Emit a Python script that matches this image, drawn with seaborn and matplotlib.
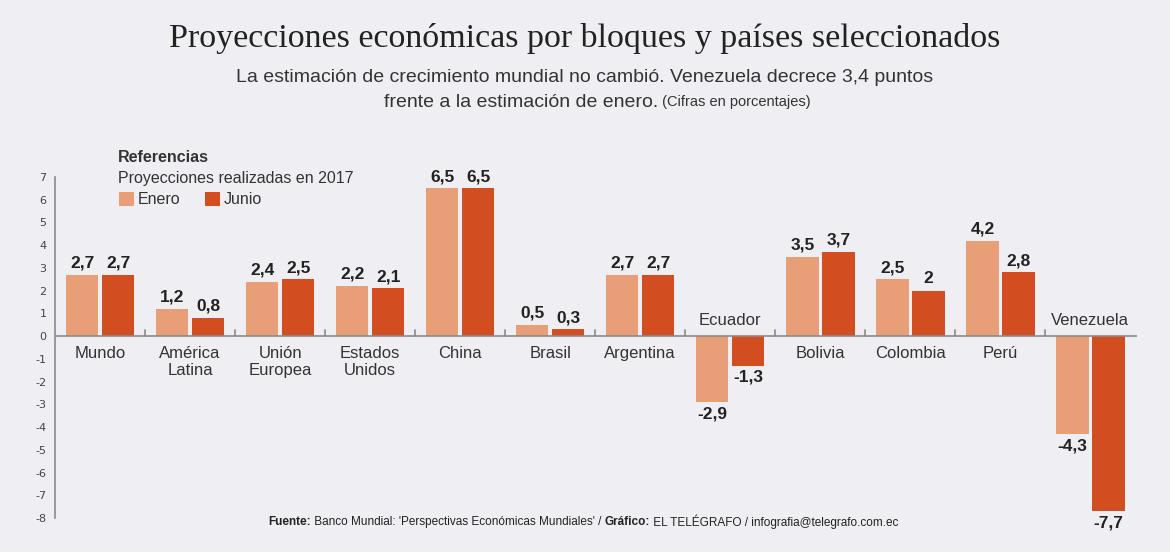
import numpy as np
import pandas as pd
import seaborn as sns
import matplotlib.pyplot as plt

# Datos (cifras en porcentajes)
paises = ['Mundo', 'América\nLatina', 'Unión\nEuropea', 'Estados\nUnidos', 'China', 'Brasil',
          'Argentina', 'Ecuador', 'Bolivia', 'Colombia', 'Perú', 'Venezuela']
enero = [2.7, 1.2, 2.4, 2.2, 6.5, 0.5, 2.7, -2.9, 3.5, 2.5, 4.2, -4.3]
junio = [2.7, 0.8, 2.5, 2.1, 6.5, 0.3, 2.7, -1.3, 3.7, 2.0, 2.8, -7.7]
series = ['Enero', 'Junio']
y_ticks = list(range(-8, 8))

BG = '#efeff3'
colores = ['#e89e76', '#d24d1f']

sns.set_style('white')
plt.rcParams['font.family'] = ['Liberation Sans', 'DejaVu Sans']
plt.rcParams['axes.unicode_minus'] = False

df = pd.DataFrame({
    'pais': paises * 2,
    'valor': enero + junio,
    'serie': ['Enero'] * len(paises) + ['Junio'] * len(paises),
})

fig = plt.figure(figsize=(11.7, 5.52), dpi=100, facecolor=BG)
ax = fig.add_axes([0.047, 0.0616, 0.925, 0.6178])
ax.set_facecolor(BG)

sns.barplot(data=df, x='pais', y='valor', hue='serie', hue_order=series,
            palette=colores, saturation=1, width=0.8, gap=0.1, linewidth=0,
            legend=False, ax=ax)

ax.set_xlim(-0.5, len(paises) - 0.48)
ax.set_ylim(-8, 7)

# etiquetas de valores
for cont, vals in zip(ax.containers, [enero, junio]):
    labs = [f'{v:g}'.replace('.', ',') for v in vals]
    ax.bar_label(cont, labels=labs, padding=3, fontsize=12.5, fontweight='bold', color='#222222')

# línea del cero y separadores
ax.axhline(0, color='#8a8a8a', lw=1.2, zorder=1)
for b in np.arange(0.5, len(paises) - 1, 1):
    ax.plot([b, b], [0, 0.28], color='#8a8a8a', lw=1.2, zorder=1)

# nombres de países
for i, (p, e, j) in enumerate(zip(paises, enero, junio)):
    if min(e, j) < 0:
        ax.annotate(p, (i, 0), xytext=(0, 6), textcoords='offset points',
                    ha='center', va='bottom', fontsize=12, color='#333333')
    else:
        ax.annotate(p, (i, 0), xytext=(0, -7), textcoords='offset points',
                    ha='center', va='top', fontsize=12, color='#333333', linespacing=1.15)

# ejes
sns.despine(ax=ax, bottom=True)
ax.spines['left'].set_color('#8a8a8a')
ax.spines['left'].set_linewidth(1.2)
ax.set_xticks([])
ax.set_yticks(y_ticks)
ax.tick_params(axis='y', direction='in', length=6, color='#8a8a8a', width=1.2,
               labelsize=8, labelcolor='#444444', pad=6)
for t in ax.get_yticklabels():
    t.set_fontfamily('DejaVu Sans')
ax.set_xlabel('')
ax.set_ylabel('')

# título y subtítulo
fig.text(0.5, 0.93, 'Proyecciones económicas por bloques y países seleccionados',
         ha='center', va='center', fontsize=24.5, family='Liberation Serif', color='#222222')
fig.text(0.5, 0.86, 'La estimación de crecimiento mundial no cambió. Venezuela decrece 3,4 puntos',
         ha='center', va='center', fontsize=14, color='#333333')
sub2 = fig.text(0.445, 0.815, 'frente a la estimación de enero.', ha='center', va='center',
                fontsize=14, color='#333333')
ax.annotate(' (Cifras en porcentajes)', xy=(1, 0.5), xycoords=sub2, va='center',
            fontsize=10.5, color='#333333')

# leyenda
fig.text(0.101, 0.714, 'Referencias', fontsize=11.5, fontweight='bold', color='#333333', va='center')
fig.text(0.101, 0.677, 'Proyecciones realizadas en 2017', fontsize=11.5, color='#333333', va='center')
for k, (s, c) in enumerate(zip(series, colores)):
    x0 = 0.102 + k * 0.0735
    fig.patches.append(plt.Rectangle((x0, 0.626), 0.0125, 0.027, transform=fig.transFigure,
                                     facecolor=c, edgecolor='none'))
    fig.text(x0 + 0.0155, 0.639, s, fontsize=11.5, color='#333333', va='center')

# fuente
piezas = [('Fuente:', 'bold'), (" Banco Mundial: 'Perspectivas Económicas Mundiales' / ", 'normal'),
          ('Gráfico:', 'bold'), (' EL TELÉGRAFO / infografia@telegrafo.com.ec', 'normal')]
prev = fig.text(0.229, 0.054, piezas[0][0], fontsize=8.5, fontweight='bold', color='#222222', va='center')
for txt, w in piezas[1:]:
    prev = ax.annotate(txt, xy=(1, 0.5), xycoords=prev, va='center', fontsize=8.5,
                       fontweight=w, color='#222222')

fig.savefig('out.png', dpi=100, facecolor=BG)
